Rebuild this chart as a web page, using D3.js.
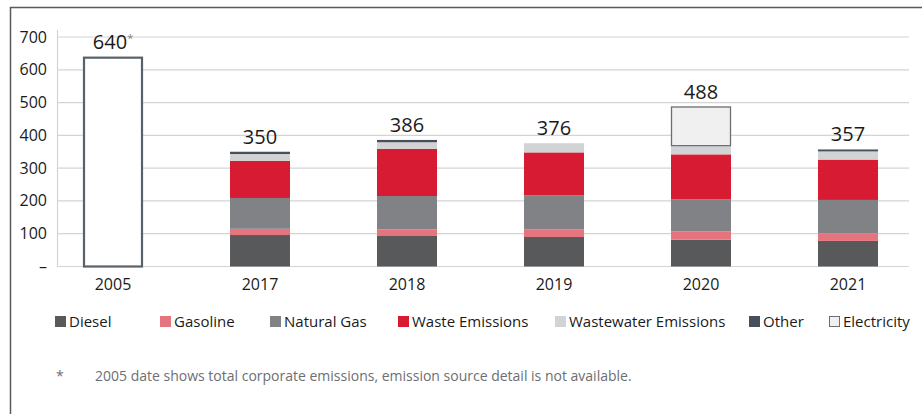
<!DOCTYPE html>
<html>
<head>
<meta charset="utf-8">
<script src="https://cdn.jsdelivr.net/npm/d3@7"></script>
<style>
  body { margin: 0; background: #fff; }
  svg { display: block; font-family: "Open Sans", sans-serif; }
</style>
</head>
<body>
<div id="content"></div>
<script>
// data (tCO2e)
const years = ["2005", "2017", "2018", "2019", "2020", "2021"];
const seriesNames = ["Diesel", "Gasoline", "Natural Gas", "Waste Emissions", "Wastewater Emissions", "Other", "Electricity"];
const diesel     = [0, 96, 93, 90, 82, 78];
const gasoline   = [0, 19, 20, 23, 25, 23];
const naturalGas = [0, 94, 102, 104, 98, 102];
const waste      = [0, 113, 144, 131, 137, 123];
const wastewater = [0, 21, 20, 28, 25, 25];
const other      = [0, 7, 7, 0, 0, 6];
const electricity = [0, 0, 0, 0, 121, 0];
const totalOnly  = [640, 0, 0, 0, 0, 0];   // 2005 has no source detail
const totals     = [640, 350, 386, 376, 488, 357];
const yTicks = [0, 100, 200, 300, 400, 500, 600, 700];
const footnote = "2005 date shows total corporate emissions, emission source detail is not available.";

const colors = ["#58595b", "#e6747f", "#808285", "#d71b33", "#d1d3d4", "#46505a", "#f0f0f0"];

const width = 922, height = 414;
const svg = d3.select("#content").append("svg")
    .attr("width", width)
    .attr("height", height);

// outer frame (top + left edge)
svg.append("path")
    .attr("d", "M10.5,414 L10.5,7.5 L922,7.5")
    .attr("fill", "none")
    .attr("stroke", "#5a5a5a")
    .attr("stroke-width", 1.5);

const x = d3.scalePoint().domain(years).range([113, 848]);
const barW = 60;
const y = d3.scaleLinear().domain([0, 700]).range([266.5, 37]);

// grid
svg.append("g")
    .selectAll("line")
    .data(yTicks)
    .enter().append("line")
    .attr("x1", 57).attr("x2", 909)
    .attr("y1", d => y(d)).attr("y2", d => y(d))
    .attr("stroke", "#d4d4d4")
    .attr("stroke-width", 1.2);

svg.append("line")
    .attr("x1", 57.5).attr("x2", 57.5)
    .attr("y1", 30).attr("y2", y(0))
    .attr("stroke", "#d4d4d4")
    .attr("stroke-width", 1.2);

// y tick labels
svg.append("g")
    .selectAll("text")
    .data(yTicks)
    .enter().append("text")
    .attr("x", 47)
    .attr("y", d => y(d) + 5.5)
    .attr("text-anchor", "end")
    .style("font-size", "16px")
    .attr("fill", "#1a1a1a")
    .text(d => d == 0 ? "–" : d);

// stacked bars
const rows = years.map((yr, i) => ({
    year: yr,
    "Diesel": diesel[i], "Gasoline": gasoline[i], "Natural Gas": naturalGas[i],
    "Waste Emissions": waste[i], "Wastewater Emissions": wastewater[i],
    "Other": other[i], "Electricity": electricity[i]
}));
const stack = d3.stack().keys(seriesNames)(rows);

svg.append("g")
    .selectAll("g")
    .data(stack)
    .enter().append("g")
    .attr("fill", (d, i) => colors[i])
    .selectAll("rect")
    .data(d => d.filter(s => s[1] - s[0] > 0))
    .enter().append("rect")
    .attr("x", d => x(d.data.year) - barW / 2)
    .attr("width", barW)
    .attr("y", d => y(d[1]))
    .attr("height", d => y(d[0]) - y(d[1]));

// electricity box outline (2020)
svg.append("g")
    .selectAll("rect")
    .data(stack[6].filter(s => s[1] - s[0] > 0))
    .enter().append("rect")
    .attr("x", d => x(d.data.year) - barW / 2 + 0.5)
    .attr("width", barW - 1)
    .attr("y", d => y(d[1]) + 0.5)
    .attr("height", d => y(d[0]) - y(d[1]) - 1)
    .attr("fill", "none")
    .attr("stroke", "#6d6e71")
    .attr("stroke-width", 1.3);

// 2005 total only bar
svg.append("g")
    .selectAll("rect")
    .data(years.map((yr, i) => ({ year: yr, v: totalOnly[i] })).filter(d => d.v > 0))
    .enter().append("rect")
    .attr("x", d => x(d.year) - barW / 2 + 1)
    .attr("width", barW - 2)
    .attr("y", d => y(d.v) + 1)
    .attr("height", d => y(0) - y(d.v) - 1)
    .attr("fill", "#fff")
    .attr("stroke", "#58616a")
    .attr("stroke-width", 2.2);

// total labels
const lbl = svg.append("g")
    .selectAll("text")
    .data(years.map((yr, i) => ({ year: yr, v: totals[i] })))
    .enter().append("text")
    .attr("x", d => x(d.year))
    .attr("y", d => y(d.v) - 8)
    .attr("text-anchor", "middle")
    .style("font-size", "20px")
    .attr("fill", "#1a1a1a");
lbl.append("tspan").text(d => d.v);
lbl.filter(d => d.year == "2005").append("tspan")
    .attr("dy", -7)
    .attr("fill", "#808285")
    .style("font-size", "11px")
    .text("*");

// x labels
svg.append("g")
    .selectAll("text")
    .data(years)
    .enter().append("text")
    .attr("x", d => x(d))
    .attr("y", 290)
    .attr("text-anchor", "middle")
    .style("font-size", "16px")
    .attr("fill", "#1a1a1a")
    .text(d => d);

// legend
const legendX = [55, 160, 270, 398, 555, 749, 829];
const leg = svg.append("g")
    .selectAll("g")
    .data(seriesNames)
    .enter().append("g")
    .attr("transform", (d, i) => "translate(" + legendX[i] + ",316)");
leg.append("rect")
    .attr("x", (d, i) => i == 6 ? 0.5 : 0)
    .attr("y", (d, i) => i == 6 ? 0.5 : 0)
    .attr("width", (d, i) => i == 6 ? 10 : 11)
    .attr("height", (d, i) => i == 6 ? 10 : 11)
    .attr("fill", (d, i) => colors[i])
    .attr("stroke", (d, i) => i == 6 ? "#6d6e71" : "none");
leg.append("text")
    .attr("x", 14)
    .attr("y", 11)
    .style("font-size", "15px")
    .attr("fill", "#1a1a1a")
    .text(d => d);

// footnote
svg.append("text")
    .attr("x", 56).attr("y", 381)
    .style("font-size", "14px")
    .attr("fill", "#6d6e71")
    .text("*");
svg.append("text")
    .attr("x", 95).attr("y", 381)
    .style("font-size", "14px")
    .attr("fill", "#6d6e71")
    .text(footnote);
</script>
</body>
</html>
